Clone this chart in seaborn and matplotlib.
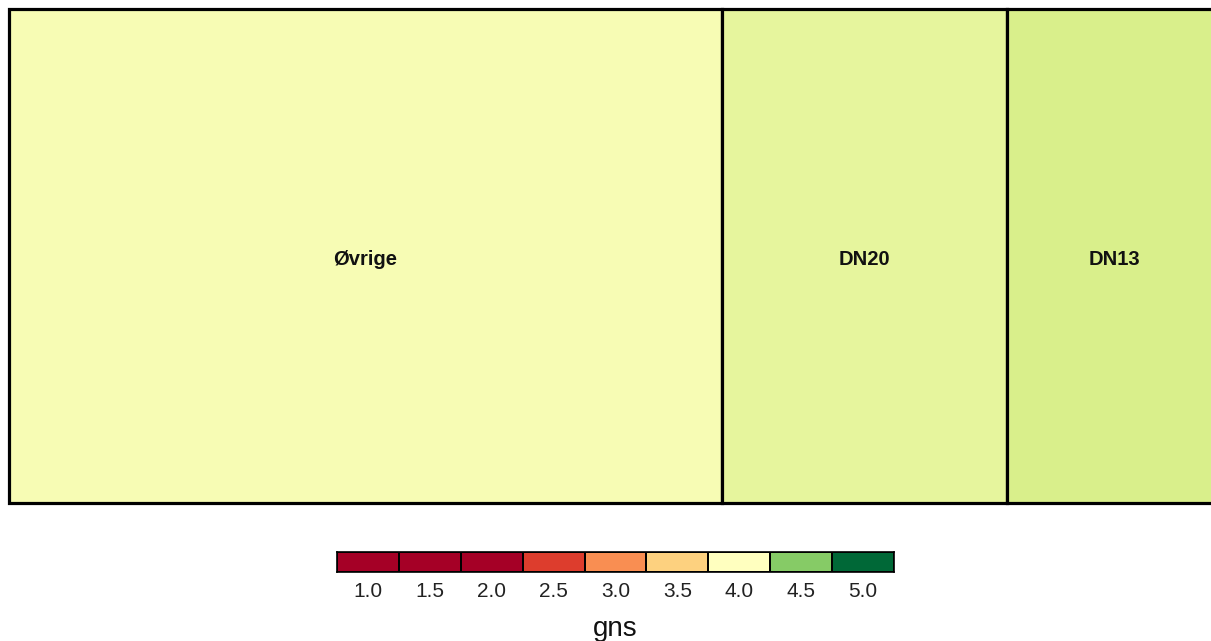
import numpy as np
import pandas as pd
import matplotlib
matplotlib.use("Agg")
import matplotlib.pyplot as plt
import seaborn as sns
from matplotlib.colors import ListedColormap, Normalize

# Data
labels = ["Øvrige", "DN20", "DN13"]
sizes = [10, 4, 3]
gns = [4.09, 4.25, 4.40]

legend_values = [1.0, 1.5, 2.0, 2.5, 3.0, 3.5, 4.0, 4.5, 5.0]
legend_colors = ["#A50026", "#A50026", "#A50026", "#DD3D2D", "#F98E52",
                 "#FDD17F", "#FFFFBF", "#86CB66", "#006837"]

sns.set_theme(style="white")
plt.rcParams['font.family'] = ['Liberation Sans', 'DejaVu Sans']

W, H = 1211, 641
fig = plt.figure(figsize=(W / 100, H / 100), dpi=100)

# continuous colour scale for fills
cmap = plt.get_cmap("RdYlGn")
norm = Normalize(vmin=2.0, vmax=6.0)

# treemap (single row slice layout)
ax = fig.add_axes([9 / W, (H - 503) / H, (1221 - 9) / W, (503 - 9) / H])
total = sum(sizes)
lefts = np.concatenate([[0], np.cumsum(sizes)[:-1]]) / total
widths = np.array(sizes) / total
cols = [cmap(norm(g)) for g in gns]
ax.bar(lefts, [1] * len(sizes), width=widths, align="edge", color=cols,
       edgecolor="black", linewidth=2.3, clip_on=False)
for l, w, lab in zip(lefts, widths, labels):
    ax.text(l + w / 2, 0.492, lab, ha="center", va="center",
            fontsize=14.5, fontweight="bold", color="#111111")
ax.set_xlim(0, 1)
ax.set_ylim(0, 1)
ax.axis("off")

# legend as a 1-row heatmap
lax = fig.add_axes([337 / W, (H - 572) / H, (894 - 337) / W, (572 - 552) / H])
df = pd.DataFrame([list(range(len(legend_values)))],
                  columns=[f"{v:.1f}" for v in legend_values])
sns.heatmap(df, ax=lax, cmap=ListedColormap(legend_colors), cbar=False,
            linewidths=1.2, linecolor="black", vmin=-0.5,
            vmax=len(legend_values) - 0.5)
for s in lax.spines.values():
    s.set_visible(True)
    s.set_color("black")
    s.set_linewidth(1.2)
lax.set_yticks([])
lax.tick_params(axis="x", length=0, pad=7, labelsize=15, labelcolor="#222222")
lax.set_xticklabels(lax.get_xticklabels(), rotation=0)
lax.set_xlabel("gns", fontsize=20, color="#111111", labelpad=11)
lax.set_ylabel("")

fig.savefig("out.png", dpi=100)
